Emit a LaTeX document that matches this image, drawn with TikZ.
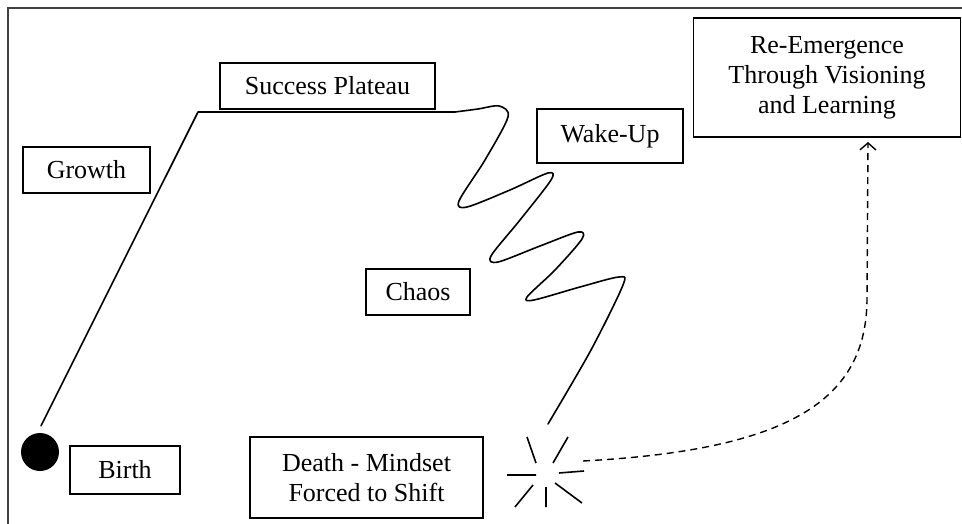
\documentclass[tikz,border=0pt]{standalone}
\usepackage{fontspec}
\setmainfont{Liberation Serif}
\usetikzlibrary{arrows.meta,calc}
\tikzset{
  lbl/.style={draw=black, line width=1.3pt, inner sep=0pt, align=center,
    font=\fontsize{26}{30}\selectfont},
  curve/.style={line width=1.6pt, line cap=round, line join=round},
}
\begin{document}
\begin{tikzpicture}[x=1pt,y=-1pt]
\useasboundingbox (0,0) rectangle (962,524);
% frame
\coordinate (f1) at (8,524);
\coordinate (f2) at (8,8);
\coordinate (f3) at (962,8);
\draw[line width=2pt, black!75] (f1) -- (f2) -- (f3);

% boxes
\node[lbl, minimum width=215, minimum height=46] (plateau) at (327.5,86) {Success Plateau};
\node[lbl, minimum width=127, minimum height=46] (growth) at (86.5,170) {Growth};
\node[lbl, minimum width=110, minimum height=48] (birth) at (125,470) {Birth};
\node[lbl, minimum width=233, minimum height=81] (death) at (366.5,477.5) {Death - Mindset\\Forced to Shift};
\node[lbl, minimum width=104, minimum height=46] (chaos) at (418,292) {Chaos};
\node[lbl, minimum width=146, minimum height=54] (wake) at (610,136) {Wake-Up};
\node[lbl, minimum width=267, minimum height=119] (reem) at (827,77.5) {Re-Emergence\\Through Visioning\\and Learning};

% birth dot
\node[circle, fill=black, minimum size=38, inner sep=0pt] (dot) at (40,452) {};

% growth line and plateau
\coordinate (pl) at (198,112);
\coordinate (pr) at (455,112);
\path (dot.north) ++(1,-7) coordinate (dtop);
\draw[curve] (dtop) -- (pl) -- (pr);

% squiggle (wake-up / chaos)
\coordinate (send) at (548,424);
\draw[curve] plot[smooth, tension=0.5] coordinates {
  (pr) (478,109) (499,106) (508,117)
  (485,160) (459,201) (467,207)
  (510,190) (548,173) (551,180)
  (520,220) (491,256) (498,262)
  (540,246) (578,232) (582,239)
  (555,270) (527,297) (534,300)
  (580,287) (619,277) (623,285)
  (591,350) (send)};

% starburst
\coordinate (burst) at (546,475);
\draw[line width=1.6pt]
  ($(burst)+(-19,-38)$) -- ($(burst)+(-10,-12)$)
  ($(burst)+(22,-38)$) -- ($(burst)+(7,-12)$)
  ($(burst)+(-39,0)$) -- ($(burst)+(-10,0)$)
  ($(burst)+(13,-2)$) -- ($(burst)+(38,-4)$)
  ($(burst)+(-13,10)$) -- ($(burst)+(-31,32)$)
  ($(burst)+(0,12)$) -- ($(burst)+(0,32)$)
  ($(burst)+(9,8)$) -- ($(burst)+(36,28)$);

% dashed arrow
\coordinate (dstart) at (583,461);
\coordinate (tip) at (868,142);
\draw[line width=1.4pt, dash pattern=on 7pt off 5pt, -{Straight Barb[length=7pt,width=16pt,line width=1.4pt]}]
  (dstart) .. controls (790,450) and (866,400) .. (867,300) -- (tip);
\end{tikzpicture}
\end{document}
